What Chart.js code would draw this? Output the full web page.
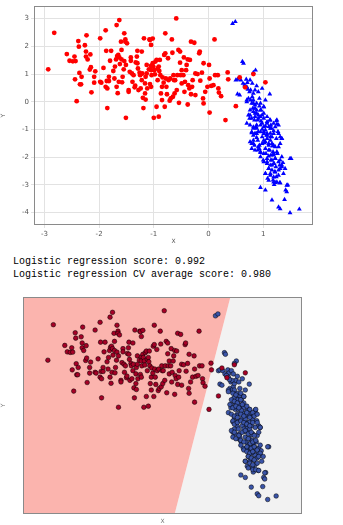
<!DOCTYPE html>
<html>
<head>
<meta charset="utf-8">
<script src="https://cdn.jsdelivr.net/npm/chart.js@4.4.1/dist/chart.umd.min.js"></script>
<style>
  body { margin: 0; background: #fff; }
  #wrap { position: relative; width: 343px; height: 525px; }
  #box1 { position: absolute; left: 0; top: 0; width: 343px; height: 245px; }
  #box2 { position: absolute; left: 0; top: 285px; width: 343px; height: 240px; }
  #scores { position: absolute; left: 13px; top: 255px; font: 10px "Liberation Mono", monospace; line-height: 13px; color: #000; white-space: pre; }
</style>
</head>
<body>
<div id="wrap">
  <div id="box1"><canvas id="chart1"></canvas></div>
  <div id="scores">Logistic regression score: 0.992
Logistic regression CV average score: 0.980</div>
  <div id="box2"><canvas id="chart2"></canvas></div>
</div>
<script>
// classe 0 (cercles rouges)
var redX = [-2.93,-2.82,-2.59,-2.54,-2.48,-2.45,-2.43,-2.44,-2.41,-2.38,-2.37,-2.36,-2.35,-2.32,-2.33,-2.26,-2.24,-2.23,-2.21,-2.24,
  -2.16,-2.17,-2.15,-2.14,-2.09,-2.07,-2.09,-1.98,-1.98,-1.96,-1.92,-1.88,-1.87,-1.88,-1.86,-1.85,-1.82,-1.82,-1.85,-1.78,
  -1.80,-1.74,-1.71,-1.72,-1.68,-1.63,-1.69,-1.67,-1.65,-1.63,-1.68,-1.66,-1.64,-1.62,-1.60,-1.59,-1.59,-1.57,-1.58,-1.55,
  -1.54,-1.52,-1.52,-1.49,-1.54,-1.51,-1.51,-1.46,-1.46,-1.44,-1.42,-1.42,-1.40,-1.37,-1.39,-1.35,-1.34,-1.33,-1.30,-1.31,
  -1.30,-1.29,-1.28,-1.26,-1.25,-1.24,-1.22,-1.21,-1.22,-1.20,-1.19,-1.18,-1.16,-1.16,-1.15,-1.15,-1.13,-1.13,-1.12,-1.09,
  -1.08,-1.07,-1.07,-1.05,-1.05,-1.05,-1.04,-1.05,-1.02,-1.02,-1.01,-1.00,-0.99,-0.98,-0.97,-0.95,-0.95,-0.93,-0.93,-0.91,
  -0.91,-0.90,-0.89,-0.88,-0.87,-0.85,-0.85,-0.84,-0.82,-0.81,-0.80,-0.79,-0.79,-0.78,-0.77,-0.76,-0.74,-0.73,-0.71,-0.70,
  -0.69,-0.67,-0.66,-0.65,-0.64,-0.63,-0.62,-0.61,-0.59,-0.58,-0.57,-0.55,-0.54,-0.52,-0.52,-0.51,-0.49,-0.49,-0.46,-0.44,
  -0.45,-0.43,-0.41,-0.40,-0.38,-0.38,-0.37,-0.35,-0.34,-0.32,-0.32,-0.30,-0.29,-0.26,-0.24,-0.24,-0.20,-0.17,-0.16,-0.15,
  -0.12,-0.09,-0.10,-0.09,-0.06,-0.02,0.01,0.02,0.02,0.05,0.09,0.11,0.12,0.17,0.18,0.19,0.23,0.31,0.35,0.36,
  0.50,0.57,0.67,0.82,1.04];
var redY = [1.17,2.49,1.72,1.48,1.46,1.63,1.47,0.81,0.02,2.19,1.99,1.04,0.63,0.90,0.63,2.04,1.63,2.40,1.53,1.81,
  1.71,1.16,1.25,0.34,0.69,1.10,0.90,2.29,0.72,0.69,1.22,2.58,1.84,0.54,0.75,-0.23,0.75,0.90,0.48,1.84,
  1.48,1.11,1.27,0.84,2.77,2.95,1.53,1.65,1.69,1.60,0.54,0.31,0.72,1.36,2.17,1.87,1.53,0.90,0.70,1.17,
  2.47,2.25,2.17,2.11,1.47,1.33,-0.58,0.42,0.36,1.08,1.60,1.48,1.02,0.96,0.72,0.52,0.58,1.42,1.84,1.63,
  1.39,1.20,0.42,1.05,0.96,0.48,1.81,1.02,0.78,0.14,-0.23,2.29,0.66,0.30,0.90,0.08,1.33,1.02,0.48,1.17,
  2.25,0.64,2.23,2.05,1.29,1.14,0.96,0.54,2.28,1.39,1.27,-0.58,1.14,0.99,1.45,1.51,-0.18,1.20,0.78,-0.54,
  1.27,1.11,1.51,0.96,0.30,0.54,0.06,0.88,0.69,1.69,-0.18,2.47,1.75,0.84,0.54,0.27,1.57,0.78,0.04,0.84,
  0.12,2.25,1.77,0.18,0.96,0.78,0.30,0.78,3.01,0.42,0.96,1.87,-0.04,1.41,1.81,0.96,1.14,0.66,0.96,0.36,
  1.60,0.72,1.14,1.33,-0.10,1.53,0.60,0.48,1.51,0.27,2.17,0.54,0.78,2.13,1.02,0.24,1.00,1.75,1.81,0.76,
  1.05,1.39,0.12,-0.06,0.36,0.54,1.33,0.84,-0.39,0.57,0.60,2.25,0.96,0.96,0.48,0.33,0.20,-0.66,1.06,0.81,
  -0.16,0.88,0.52,1.00,0.70];

// classe 1 (triangles bleus)
var blueX = [0.44,0.49,0.62,0.64,0.86,0.82,0.50,0.53,0.59,0.63,0.69,0.71,0.76,0.80,0.53,0.57,0.70,0.75,0.73,0.80,
  0.82,0.85,0.88,0.91,0.93,0.98,1.04,1.12,0.77,0.82,0.88,0.93,0.85,0.88,0.81,0.96,1.01,0.76,0.75,0.84,
  0.90,0.95,1.01,1.07,1.12,1.14,1.24,1.25,1.15,1.10,1.04,0.98,0.88,0.82,0.79,0.85,0.91,1.01,1.07,1.13,
  1.19,1.27,1.31,1.34,1.24,1.16,1.07,0.98,0.88,0.82,0.79,0.84,0.93,1.02,1.10,1.19,1.28,0.90,0.95,1.04,
  1.12,1.18,1.26,1.19,1.10,1.00,1.07,1.14,1.22,1.31,1.36,1.51,1.30,1.23,1.16,1.10,1.04,1.13,1.21,1.28,
  1.24,1.18,1.08,1.22,1.30,1.20,1.45,0.95,1.04,1.41,1.43,1.16,1.39,1.28,1.31,1.49,1.66,0.85,0.91,0.98,
  1.04,0.90,1.01,1.13,1.05,1.14,1.20,1.34,0.77,0.70,0.82,0.95,1.01,0.66,0.72,0.96,1.06,1.17,0.87,0.93,
  0.70,0.79,0.85,0.76,0.82,0.88,0.95,1.01,0.73,0.79,0.85,0.91,0.98,1.07,1.13,1.19,1.25,0.70,0.76,0.82,
  0.88,0.95,1.01,1.07,1.13,1.22,1.28,0.79,0.82,0.88,0.95,1.01,1.07,1.13,1.19,1.28,1.34,0.76,0.82,0.91,
  0.98,1.04,1.10,1.16,1.22,1.31,0.79,0.85,0.95,1.01,1.10,1.19,1.25,1.34,0.95,1.07,1.16,1.22,1.49,1.01,
  1.07,1.13,1.19,1.28,1.34,1.10,1.16,1.22,1.31,1.40,1.04,1.13,1.19,1.28,1.37,1.10,1.19,1.25,1.31,1.43];
var blueY = [2.82,2.89,1.45,1.39,1.14,1.05,0.78,0.81,0.78,0.66,0.81,0.69,0.78,0.66,0.28,0.24,0.54,0.36,0.12,0.18,
  0.30,0.42,0.57,0.36,0.12,0.48,0.06,0.28,0.06,-0.06,-0.06,-0.16,-0.24,-0.30,-0.24,-0.30,-0.42,-0.48,-0.60,-0.66,
  -0.66,-0.54,-0.60,-0.72,-0.66,-0.84,-0.69,-0.81,-0.96,-0.90,-0.88,-0.78,-0.84,-0.96,-1.12,-1.14,-1.08,-1.08,-1.14,-1.14,
  -1.05,-1.08,-1.27,-1.33,-1.33,-1.27,-1.33,-1.27,-1.29,-1.39,-1.51,-1.57,-1.57,-1.48,-1.51,-1.57,-1.63,-1.75,-1.84,-1.69,
  -1.75,-1.81,-1.87,-1.93,-1.96,-2.11,-2.17,-2.11,-2.05,-2.11,-2.20,-2.05,-2.29,-2.35,-2.29,-2.41,-2.59,-2.59,-2.53,-2.47,
  -2.71,-2.83,-2.77,-2.92,-2.93,-2.99,-3.01,-3.10,-3.19,-3.19,-3.25,-3.55,-3.53,-3.80,-3.87,-4.01,-3.88,-0.42,-0.48,-1.00,
  -1.02,-1.39,-1.39,-1.39,-1.87,-1.93,-2.23,-2.35,0.42,0.06,0.06,-0.06,-0.18,0.60,0.45,-0.70,-1.20,-1.60,-0.90,-1.70,
  0.00,-0.06,-0.12,-0.30,-0.36,-0.42,-0.30,-0.18,-0.48,-0.60,-0.54,-0.60,-0.48,-0.54,-0.66,-0.78,-0.66,-0.78,-0.84,-0.91,
  -0.96,-0.84,-0.91,-0.78,-0.96,-0.91,-0.84,-1.09,-1.21,-1.15,-1.09,-1.15,-1.21,-1.27,-1.15,-1.15,-1.33,-1.45,-1.51,-1.63,
  -1.51,-1.45,-1.57,-1.51,-1.63,-1.51,-1.69,-1.75,-1.81,-1.87,-1.75,-1.87,-1.81,-1.99,-1.99,-2.05,-2.11,-2.05,-2.05,-2.17,
  -2.23,-2.29,-2.23,-2.17,-2.29,-2.41,-2.47,-2.54,-2.41,-2.41,-2.59,-2.66,-2.72,-2.66,-2.59,-2.84,-2.90,-2.90,-2.93,-3.02];

// limites des axes (graphique du haut et grille de décision du bas)
var xTicks = [-3, -2, -1, 0, 1];
var yTicks = [-4, -3, -2, -1, 0, 1, 2, 3];
var xRange1 = [-3.19, 1.91];
var yRange1 = [-4.45, 3.45];
var xRange2 = [-3.43, 2.18];
var yRange2 = [-4.55, 3.52];

// coefficients de la régression logistique (frontière : c0*x + c1*y + b = 0)
var coef = [3.6, -0.5];
var intercept = -0.905;

function pts(xs, ys) {
    return xs.map((x, i) => ({ x: x, y: ys[i] }));
}

const frameBorder = {
    id: 'frameBorder',
    afterDraw(chart) {
        const a = chart.chartArea;
        const c = chart.ctx;
        c.save();
        c.strokeStyle = '#8a8a8a';
        c.lineWidth = 1;
        c.strokeRect(Math.round(a.left) + 0.5, Math.round(a.top) + 0.5,
            Math.round(a.right - a.left) - 1, Math.round(a.bottom - a.top) - 1);
        c.restore();
    }
};

// Premier graphique (nuage de points)
const ctx1 = document.getElementById('chart1');
const chart1 = new Chart(ctx1, {
    type: 'scatter',
    data: {
        datasets: [{
            label: '0',
            data: pts(redX, redY),
            pointStyle: 'circle',
            pointRadius: 2.4,
            backgroundColor: '#ff0000',
            borderWidth: 0
        }, {
            label: '1',
            data: pts(blueX, blueY),
            pointStyle: 'triangle',
            pointRadius: 2.8,
            backgroundColor: '#0000ff',
            borderWidth: 0
        }]
    },
    options: {
        responsive: true,
        maintainAspectRatio: false,
        animation: false,
        layout: { padding: { top: 6, right: 30, left: 0, bottom: 0 } },
        plugins: { legend: { display: false }, tooltip: { enabled: false } },
        scales: {
            x: {
                type: 'linear',
                min: xRange1[0], max: xRange1[1],
                afterBuildTicks: s => { s.ticks = xTicks.map(v => ({ value: v })); },
                afterFit: s => { s.height = 20; },
                grid: { color: '#e2e2e2', tickLength: 3 },
                border: { display: false },
                ticks: { font: { size: 7, family: 'DejaVu Sans' }, color: '#555', padding: 2 },
                title: { display: true, text: 'X', font: { size: 6, family: 'DejaVu Sans' }, color: '#555', padding: 0 }
            },
            y: {
                type: 'linear',
                min: yRange1[0], max: yRange1[1],
                afterBuildTicks: s => { s.ticks = yTicks.map(v => ({ value: v })); },
                afterFit: s => { s.width = 34; },
                grid: { color: '#e2e2e2', tickLength: 3 },
                border: { display: false },
                ticks: { font: { size: 7, family: 'DejaVu Sans' }, color: '#555', padding: 2 },
                title: { display: true, text: 'Y', font: { size: 6, family: 'DejaVu Sans' }, color: '#555', padding: 0 }
            }
        }
    },
    plugins: [frameBorder]
});

// Frontière de décision à partir des coefficients
function boundaryX(y) {
    return -(coef[1] * y + intercept) / coef[0];
}
var boundary = [
    { x: xRange2[0], y: yRange2[0] },
    { x: boundaryX(yRange2[0]), y: yRange2[0] },
    { x: boundaryX(yRange2[1]), y: yRange2[1] },
    { x: xRange2[1], y: yRange2[1] }
];

// Deuxième graphique (régions de décision)
const ctx2 = document.getElementById('chart2');
const chart2 = new Chart(ctx2, {
    type: 'scatter',
    data: {
        datasets: [{
            type: 'line',
            data: boundary,
            fill: 'end',
            backgroundColor: '#fbb4ae',
            borderWidth: 0,
            pointRadius: 0,
            tension: 0,
            order: 3
        }, {
            type: 'line',
            data: boundary,
            fill: 'start',
            backgroundColor: '#f2f2f2',
            borderWidth: 0,
            pointRadius: 0,
            tension: 0,
            order: 3
        }, {
            data: pts(redX, redY),
            pointRadius: 2.3,
            backgroundColor: '#a50026',
            borderColor: '#000',
            borderWidth: 0.5,
            order: 1
        }, {
            data: pts(blueX, blueY),
            pointRadius: 2.3,
            backgroundColor: '#3a54a8',
            borderColor: '#000',
            borderWidth: 0.5,
            order: 1
        }]
    },
    options: {
        responsive: true,
        maintainAspectRatio: false,
        animation: false,
        layout: { padding: { top: 12, right: 41, left: 0, bottom: 0 } },
        plugins: { legend: { display: false }, tooltip: { enabled: false } },
        scales: {
            x: {
                type: 'linear',
                min: xRange2[0], max: xRange2[1],
                afterFit: s => { s.height = 11; },
                grid: { display: false },
                border: { display: false },
                ticks: { display: false },
                title: { display: true, text: 'X', font: { size: 6, family: 'DejaVu Sans' }, color: '#777', padding: 0 }
            },
            y: {
                type: 'linear',
                min: yRange2[0], max: yRange2[1],
                afterFit: s => { s.width = 23; },
                grid: { display: false },
                border: { display: false },
                ticks: { display: false },
                title: { display: true, text: 'Y', font: { size: 6, family: 'DejaVu Sans' }, color: '#777', padding: 0 }
            }
        }
    },
    plugins: [frameBorder]
});
</script>
</body>
</html>
